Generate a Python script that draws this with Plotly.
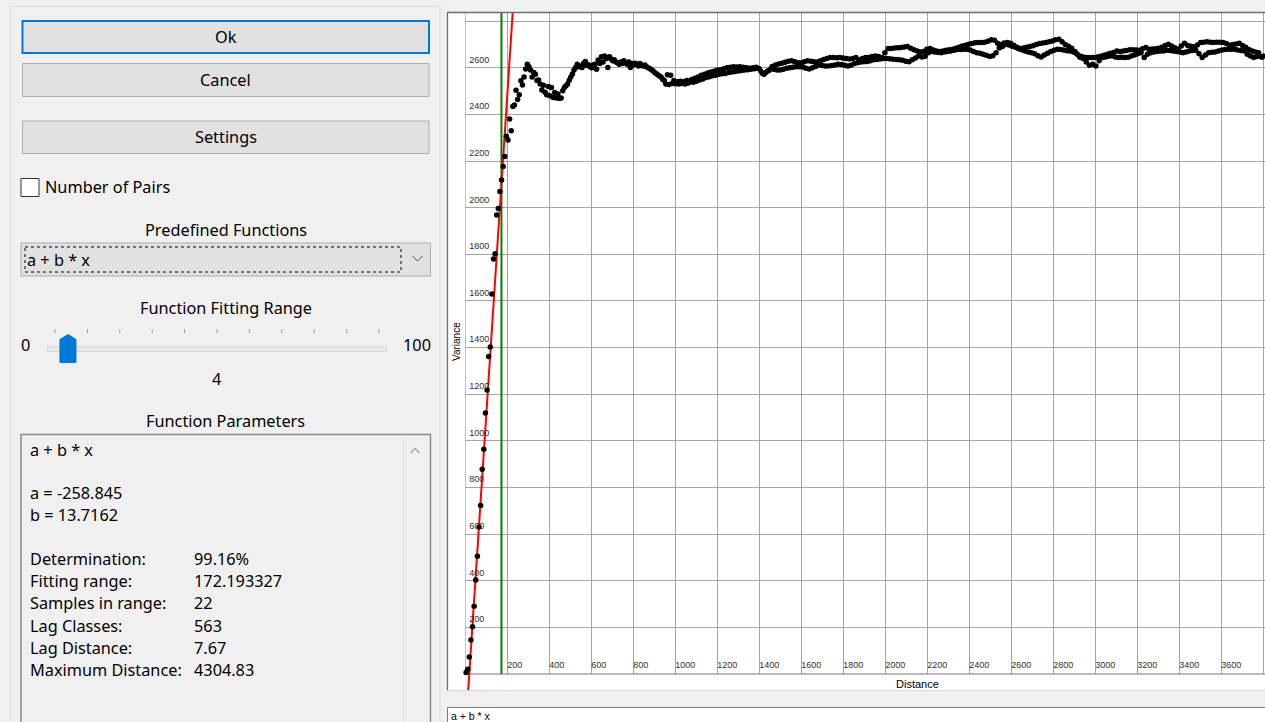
import numpy as np
import plotly.graph_objects as go

# ---- fitted model and variogram settings ----
fit_a = -258.845
fit_b = 13.7162
determination = 99.16
fit_range = 172.193327
samples_in_range = 22
lag_classes = 563
lag_distance = 7.67
max_distance = 4304.83
slider_min, slider_max, slider_value = 0, 100, 4
function_name = "a + b * x"

# experimental variogram, one value per lag class
variance = [
    6, 20, 73, 146, 203, 291, 403, 505, 631, 723,
    878, 964, 1119, 1218, 1362, 1402, 1630, 1780, 1802, 1969,
    1997, 2069, 2119, 2177, 2220, 2306, 2290, 2380, 2330, 2434,
    2440, 2504, 2464, 2484, 2544, 2526, 2560, 2595, 2615, 2605,
    2590, 2560, 2580, 2572, 2545, 2548, 2530, 2505, 2525, 2495,
    2484, 2520, 2480, 2515, 2473, 2494, 2470, 2488, 2468, 2470,
    2501, 2516, 2523, 2530, 2547, 2560, 2573, 2590, 2601, 2615,
    2605, 2608, 2601, 2620, 2627, 2610, 2613, 2604, 2600, 2612,
    2615, 2594, 2633, 2618, 2647, 2625, 2651, 2640, 2601, 2647,
    2638, 2630, 2635, 2625, 2622, 2615, 2625, 2618, 2630, 2622,
    2615, 2625, 2601, 2618, 2612, 2620, 2615, 2608, 2618, 2610,
    2608, 2612, 2605, 2600, 2597, 2592, 2587, 2580, 2575, 2570,
    2565, 2560, 2551, 2545, 2530, 2570, 2528, 2568, 2533, 2545,
    2532, 2540, 2530, 2542, 2533, 2540, 2530, 2545, 2535, 2542,
    2550, 2538, 2555, 2542, 2560, 2548, 2568, 2552, 2572, 2558,
    2578, 2562, 2582, 2566, 2585, 2568, 2590, 2572, 2592, 2574,
    2596, 2576, 2600, 2580, 2602, 2582, 2604, 2584, 2603, 2586,
    2605, 2588, 2602, 2590, 2600, 2592, 2598, 2594, 2600, 2596,
    2602, 2598, 2596, 2585, 2575, 2572, 2580, 2585, 2588, 2595,
    2606, 2594, 2612, 2590, 2616, 2590, 2620, 2594, 2624, 2598,
    2628, 2600, 2630, 2602, 2626, 2604, 2622, 2605, 2622, 2603,
    2626, 2598, 2630, 2595, 2628, 2600, 2626, 2606, 2625, 2612,
    2630, 2610, 2636, 2608, 2640, 2608, 2644, 2610, 2644, 2612,
    2643, 2615, 2644, 2614, 2642, 2611, 2640, 2608, 2638, 2611,
    2640, 2618, 2644, 2622, 2634, 2625, 2640, 2626, 2644, 2627,
    2644, 2630, 2648, 2634, 2651, 2636, 2648, 2638, 2644, 2640,
    2665, 2640, 2683, 2639, 2683, 2637, 2685, 2636, 2686, 2634,
    2687, 2632, 2689, 2628, 2691, 2626, 2684, 2634, 2677, 2642,
    2672, 2651, 2668, 2646, 2670, 2650, 2680, 2665, 2683, 2670,
    2676, 2668, 2672, 2666, 2670, 2665, 2672, 2668, 2675, 2670,
    2677, 2672, 2680, 2675, 2684, 2678, 2688, 2678, 2693, 2680,
    2697, 2680, 2701, 2676, 2704, 2670, 2707, 2665, 2708, 2662,
    2708, 2658, 2710, 2654, 2714, 2648, 2720, 2652, 2718, 2665,
    2705, 2685, 2700, 2691, 2706, 2700, 2708, 2698, 2705, 2692,
    2697, 2688, 2688, 2682, 2683, 2677, 2685, 2672, 2688, 2668,
    2691, 2665, 2695, 2660, 2700, 2652, 2704, 2646, 2706, 2655,
    2708, 2662, 2712, 2670, 2715, 2675, 2720, 2680, 2722, 2678,
    2712, 2676, 2700, 2673, 2692, 2672, 2684, 2668, 2670, 2660,
    2655, 2645, 2648, 2640, 2645, 2625, 2644, 2611, 2644, 2615,
    2644, 2608, 2646, 2630, 2650, 2644, 2654, 2646, 2658, 2650,
    2662, 2652, 2666, 2646, 2672, 2644, 2670, 2645, 2672, 2644,
    2674, 2645, 2677, 2651, 2677, 2655, 2676, 2660, 2675, 2665,
    2682, 2644, 2687, 2658, 2680, 2665, 2681, 2668, 2682, 2670,
    2684, 2672, 2688, 2672, 2696, 2675, 2701, 2674, 2694, 2672,
    2686, 2670, 2680, 2668, 2694, 2665, 2705, 2668, 2696, 2672,
    2692, 2674, 2690, 2675, 2698, 2660, 2708, 2644, 2710, 2655,
    2712, 2665, 2710, 2667, 2708, 2668, 2710, 2672, 2710, 2675,
    2708, 2678, 2704, 2680, 2697, 2680, 2700, 2679, 2702, 2676,
    2705, 2674, 2696, 2672, 2688, 2658, 2678, 2651, 2672, 2644,
    2668, 2648, 2665, 2650, 2645, 2650,
]

# axis ticks (gridlines every 200)
x_ticks = list(range(0, 3801, 200))
x_tick_text = ["" if v in (0, 3800) else str(v) for v in x_ticks]
y_ticks = list(range(0, 2801, 200))
y_tick_text = [str(v) for v in y_ticks]

# lag class centres
distance = (np.arange(len(variance)) + 0.5) * lag_distance

# ---- page geometry (pixels) ----
W, H = 1265, 722
PLOT_L, PLOT_R = 465.3, 1265.0
PLOT_T, PLOT_B = 13.0, 674.0
FRAME_L, FRAME_B = 447.5, 690.0
X_MAX = 3808.0
Y_TOP = 2835.0
# the chart frame continues a little below the zero line
Y_LO = -Y_TOP * (FRAME_B - PLOT_B) / (PLOT_B - PLOT_T)


def X(p):
    return p / W


def Y(p):
    return 1 - p / H


# fitted line a + b * x over the visible variance span
line_x = (np.array([Y_LO, Y_TOP]) - fit_a) / fit_b
line_y = fit_a + fit_b * line_x

fig = go.Figure()
fig.add_trace(go.Scatter(
    x=[fit_range, fit_range], y=[0, Y_TOP], mode="lines",
    line=dict(color="#008000", width=2), hoverinfo="skip", showlegend=False))
fig.add_trace(go.Scatter(
    x=line_x, y=line_y, mode="lines",
    line=dict(color="#ff0000", width=2), hoverinfo="skip", showlegend=False))
fig.add_trace(go.Scatter(
    x=distance, y=variance, mode="markers", cliponaxis=False,
    marker=dict(color="#000000", size=5.5, line=dict(width=0)),
    showlegend=False))

grid = "#a4a4a4"
tick_font = dict(family="Liberation Sans", size=9, color="#303030")

fig.update_layout(
    width=W, height=H, autosize=False,
    margin=dict(l=0, r=0, t=0, b=0),
    paper_bgcolor="#f0f0f0", plot_bgcolor="#ffffff",
    xaxis=dict(
        domain=[X(PLOT_L), X(PLOT_R)], range=[0, X_MAX],
        anchor="free", position=Y(PLOT_B + 2),
        tickmode="array", tickvals=x_ticks, ticktext=x_tick_text,
        ticklabelposition="inside right", ticks="", showline=False,
        zeroline=False, showgrid=True, gridcolor=grid, gridwidth=1.3,
        tickfont=tick_font, ticklabelstandoff=0,
    ),
    yaxis=dict(
        domain=[Y(FRAME_B), Y(PLOT_T)], range=[Y_LO, Y_TOP],
        anchor="x",
        tickmode="array", tickvals=y_ticks, ticktext=y_tick_text,
        ticklabelposition="inside top", ticks="", showline=False,
        zeroline=False, showgrid=True, gridcolor=grid, gridwidth=1.3,
        tickfont=tick_font, ticklabelstandoff=1, ticklabelshift=-2,
    ),
)

shapes = []
ann = []


def rect(x0, y0, x1, y1, fill, line="rgba(0,0,0,0)", width=1, dash=None, layer="above"):
    ln = dict(color=line, width=width)
    if dash:
        ln["dash"] = dash
    shapes.append(dict(type="rect", xref="paper", yref="paper",
                       x0=X(x0), x1=X(x1), y0=Y(y0), y1=Y(y1),
                       fillcolor=fill, line=ln, layer=layer))


def seg(pts, color, width=1, layer="above"):
    path = "M " + " L ".join(f"{X(a):.5f},{Y(b):.5f}" for a, b in pts)
    shapes.append(dict(type="path", xref="paper", yref="paper", path=path,
                       line=dict(color=color, width=width), layer=layer))


UI_SIZE = 16.3


def text(x, y, s, size=UI_SIZE, anchor="center", family="Noto Sans", color="#000000", angle=0):
    ann.append(dict(x=X(x), y=Y(y), xref="paper", yref="paper", text=s,
                    showarrow=False, xanchor=anchor, yanchor="middle",
                    textangle=angle,
                    font=dict(family=family, size=size, color=color)))


# ---- chart frame ----
rect(FRAME_L, PLOT_T - 0.5, W + 2, FRAME_B + 0.5, "#ffffff", layer="below")
seg([(FRAME_L, FRAME_B + 0.5), (FRAME_L, PLOT_T - 0.5), (W + 2, PLOT_T - 0.5)], "#6e6e6e", 1.3)
seg([(FRAME_L, FRAME_B + 0.5), (W + 2, FRAME_B + 0.5)], "#d4d4d4", 1)
# strip under the zero line keeps the fitted line but hides the gridlines
shapes.append(dict(type="rect", xref="x", yref="y", x0=0, x1=X_MAX, y0=Y_LO, y1=0,
                   fillcolor="#ffffff", line=dict(width=0), layer="between"))
shapes.append(dict(type="line", xref="x", yref="y", x0=0, x1=X_MAX, y0=0, y1=0,
                   line=dict(color=grid, width=1.3), layer="between"))
shapes.append(dict(type="line", xref="x", yref="y", x0=0, x1=0, y0=0, y1=Y_TOP,
                   line=dict(color=grid, width=1.3), layer="between"))

text(456, 341, "Variance", size=10, family="Liberation Sans", angle=-90)
text(917, 684, "Distance", size=11, family="Liberation Sans")

# formula box under the chart
rect(FRAME_L, 707.5, W + 2, H + 2, "#ffffff", "#7a7a7a", 1)
text(449, 716, function_name, size=10.5, family="Liberation Sans", anchor="left")

# ---- settings panel ----
rect(10.5, 6.5, 440, H + 2, "rgba(0,0,0,0)", "#dcdcdc", 1, layer="below")

rect(22.5, 21, 429, 53, "#e1e1e1", "#0078d7", 2)
text(225.5, 37, "Ok")
rect(22.5, 63.5, 429, 96.5, "#e1e1e1", "#adadad", 1)
text(225.5, 80, "Cancel")
rect(22.5, 121, 429, 153.5, "#e1e1e1", "#adadad", 1)
text(225.5, 137, "Settings")

rect(21, 178.5, 39, 196.5, "#ffffff", "#333333", 1)
text(42.5, 187, "Number of Pairs", anchor="left")

text(225.5, 230, "Predefined Functions")
rect(21, 243, 430.5, 276, "#e1e1e1", "#adadad", 1)
rect(25, 247, 401, 272, "rgba(0,0,0,0)", "#000000", 1, dash="dot")
text(24.5, 260, function_name, anchor="left")
seg([(412.5, 256), (417.5, 261), (422.5, 256)], "#555555", 1)

text(225.5, 308, "Function Fitting Range")
TR_L, TR_R = 55.0, 379.0
rect(47.5, 347, 386.5, 351.5, "#e7eaea", "#d6d6d6", 1)
for i in range(11):
    tx = TR_L + (TR_R - TR_L) * i / 10
    seg([(tx, 329), (tx, 333)], "#9a9a9a", 1)
thumb = TR_L + (TR_R - TR_L) * (slider_value - slider_min) / (slider_max - slider_min)
shapes.append(dict(
    type="path", xref="paper", yref="paper",
    path="M {} L {} L {} L {} L {} Z".format(
        f"{X(thumb - 8):.5f},{Y(339.5):.5f}", f"{X(thumb):.5f},{Y(334.5):.5f}",
        f"{X(thumb + 8):.5f},{Y(339.5):.5f}", f"{X(thumb + 8):.5f},{Y(362.5):.5f}",
        f"{X(thumb - 8):.5f},{Y(362.5):.5f}"),
    fillcolor="#0078d7", line=dict(color="#0078d7", width=1), layer="above"))
text(25, 345, str(slider_min))
text(417, 345, str(slider_max))
text(216, 379, str(slider_value))

text(225.5, 421, "Function Parameters")
rect(21, 434.5, 430.5, H + 2, "#f0f0f0", "#8c8c8c", 1.5)
seg([(403.5, 435.5), (403.5, H + 2)], "#e2e2e2", 1)
seg([(410.5, 453), (415, 448.5), (419.5, 453)], "#a6a6a6", 1.5)

text(28, 450, function_name, anchor="left")
text(28, 493, f"a = {fit_a}", anchor="left")
text(28, 515, f"b = {fit_b}", anchor="left")
rows = [
    ("Determination:", f"{determination:.2f}%"),
    ("Fitting range:", f"{fit_range}"),
    ("Samples in range:", f"{samples_in_range}"),
    ("Lag Classes:", f"{lag_classes}"),
    ("Lag Distance:", f"{lag_distance}"),
    ("Maximum Distance:", f"{max_distance}"),
]
for i, (label, value) in enumerate(rows):
    yy = 559 + i * 22.2
    text(28, yy, label, anchor="left")
    text(192, yy, value, anchor="left")

fig.update_layout(shapes=shapes, annotations=ann)
fig.write_html("out.html")
